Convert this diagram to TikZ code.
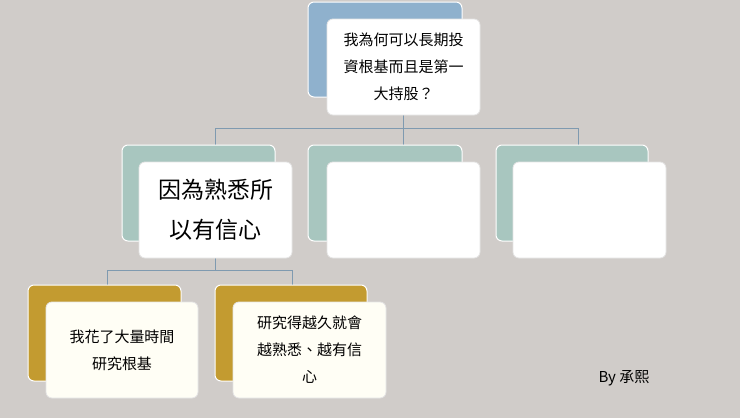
\documentclass[tikz,border=0pt]{standalone}
\usepackage{fontspec}
\newfontfamily\cjk{Noto Sans CJK TC}
\definecolor{bg}{HTML}{D0CCC9}
\definecolor{blu}{HTML}{8FB1CD}
\definecolor{grn}{HTML}{A8C6BF}
\definecolor{gld}{HTML}{C39B30}
\definecolor{ln}{HTML}{7F9AB0}
\tikzset{
 back/.style={draw=white,line width=1pt,rounded corners=6pt},
 front/.style={draw=white!80!gray,fill=white,line width=0.8pt,rounded corners=6pt,align=center,font=\cjk},
 conn/.style={draw=ln,line width=0.8pt}
}
\begin{document}
\begin{tikzpicture}[x=1pt,y=-1pt]
\fill[bg] (0,0) rectangle (740,418);
\useasboundingbox (0,0) rectangle (740,418);
% connectors
\coordinate (j1) at (403,128);
\draw[conn] (403,115) -- (j1);
\draw[conn] (215,145) -- (215,128) -- (578,128) -- (578,145);
\draw[conn] (403,128) -- (403,145);
\draw[conn] (215,258) -- (215,270);
\draw[conn] (107,285) -- (107,270) -- (292,270) -- (292,285);
% top
\fill[blu,back] (308,2) rectangle (462,97);
\node[front,minimum width=153pt,minimum height=96pt,font=\cjk\fontsize{15}{27}\selectfont] (top) at (403.5,67) {我為何可以長期投\\資根基而且是第一\\大持股？};
% row 2
\fill[grn,back] (122,145) rectangle (275,241);
\node[front,minimum width=153pt,minimum height=96pt,font=\cjk\fontsize{23}{40}\selectfont] (a) at (215.5,210) {因為熟悉所\\以有信心};
\fill[grn,back] (308,145) rectangle (462,241);
\node[front,minimum width=153pt,minimum height=96pt] (b) at (403.5,210) {};
\fill[grn,back] (496,145) rectangle (648,241);
\node[front,minimum width=153pt,minimum height=96pt] (c) at (589.5,210) {};
% row 3
\fill[gld,back] (28,285) rectangle (181,381);
\node[front,fill=white!96!yellow,minimum width=152pt,minimum height=96pt,font=\cjk\fontsize{15}{27}\selectfont] (d) at (122,350) {我花了大量時間\\研究根基};
\fill[gld,back] (215,285) rectangle (367,381);
\node[front,fill=white!96!yellow,minimum width=153pt,minimum height=96pt,font=\cjk\fontsize{15}{27}\selectfont] (e) at (309.5,350) {研究得越久就會\\越熟悉、越有信\\心};
\node[font=\cjk\fontsize{15}{18}\selectfont] (by) at (624,378) {By 承熙};
\end{tikzpicture}
\end{document}
